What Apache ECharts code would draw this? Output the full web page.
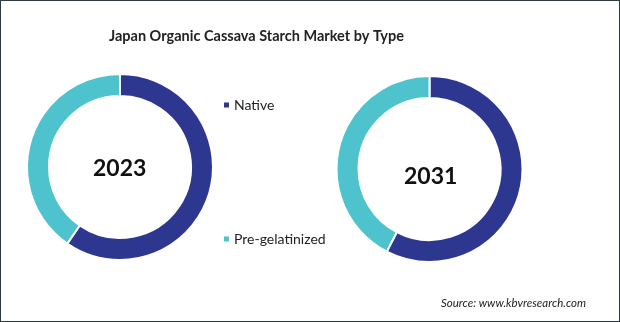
<!DOCTYPE html>
<html>
<head>
<meta charset="utf-8">
<script src="https://cdn.jsdelivr.net/npm/echarts@6/dist/echarts.min.js"></script>
<style>
  html, body { margin: 0; padding: 0; background: #fff; }
  #chart { width: 618px; height: 320px; border: 1px solid #2c3b40; }
</style>
</head>
<body>
<div id="chart"></div>
<script>
// market share by type (%)
const types = ['Native', 'Pre-gelatinized']
const share2023 = [59.6, 40.4]
const share2031 = [57.6, 42.4]
const colors = ['#2e3790', '#4ec3ce']

const chart = echarts.init(document.getElementById('chart'))

function donut(name, values, center) {
  return {
    name: name,
    type: 'pie',
    radius: [71, 93],
    center: center,
    startAngle: 90,
    clockwise: true,
    silent: true,
    label: { show: false },
    labelLine: { show: false },
    itemStyle: { borderColor: '#fff', borderWidth: 2 },
    data: types.map((t, i) => ({ name: t, value: values[i] }))
  }
}

const option = {
  color: colors,
  animation: false,
  title: {
    text: 'Japan Organic Cassava Starch Market by Type',
    left: 103,
    top: 23,
    textStyle: { fontFamily: 'Lato', fontWeight: 'bold', fontSize: 14.5, color: '#222' }
  },
  legend: {
    orient: 'vertical',
    left: 216,
    top: 92,
    itemGap: 120,
    itemWidth: 7,
    itemHeight: 7,
    icon: 'rect',
    textStyle: { fontFamily: 'Lato', fontSize: 14, color: '#222', padding: [0, 0, 0, -1] },
    data: types
  },
  graphic: [
    { type: 'text', left: 92, top: 156, style: { text: '2023', font: 'bold 23px Lato', fill: '#111' } },
    { type: 'text', left: 403, top: 164, style: { text: '2031', font: 'bold 23px Lato', fill: '#111' } },
    { type: 'text', left: 440, top: 296, style: { text: 'Source: www.kbvresearch.com', font: 'italic 11.5px Lato', fill: '#222' } }
  ],
  series: [
    donut('2023', share2023, [119, 166]),
    donut('2031', share2031, [428.5, 168])
  ]
}

chart.setOption(option)
window.addEventListener('resize', () => {
  chart.resize()
})
</script>
</body>
</html>
